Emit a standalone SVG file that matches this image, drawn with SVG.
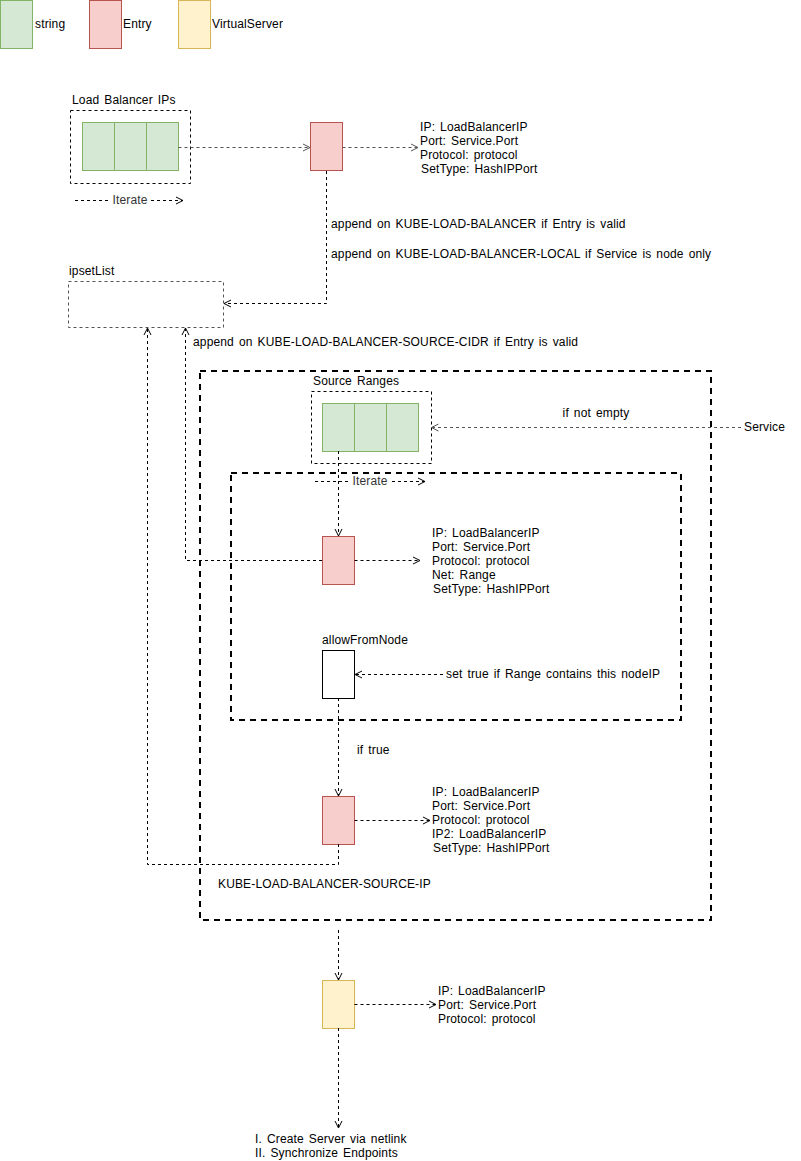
<svg xmlns="http://www.w3.org/2000/svg" width="801" height="1161" viewBox="0 0 801 1161">
<style>
text{font-family:"Liberation Sans",Arial,sans-serif;font-size:12px;fill:#000;dominant-baseline:central;letter-spacing:0.15px;word-spacing:1.5px}
.str{fill:#d5e8d4;stroke:#82b366;stroke-width:1}
.ent{fill:#f8cecc;stroke:#b85450;stroke-width:1}
.vs{fill:#fff2cc;stroke:#d6b656;stroke-width:1}
.cont{fill:none;stroke:#000;stroke-width:1;stroke-dasharray:3 3}
.gcont{fill:none;stroke:#555;stroke-width:1;stroke-dasharray:3 3}
.big{fill:none;stroke:#000;stroke-width:2;stroke-dasharray:6 5}
.c{fill:none;stroke:#000;stroke-width:1;stroke-dasharray:3 3}
.g{fill:none;stroke:#555;stroke-width:1;stroke-dasharray:3 3}
.ah{fill:none;stroke:#000;stroke-width:1}
.gah{fill:none;stroke:#555;stroke-width:1}
</style>
<defs>
<marker id="a" markerWidth="10" markerHeight="10" refX="8" refY="5" orient="auto" markerUnits="userSpaceOnUse">
<path d="M1,1.5 L8,5 L1,8.5" class="ah"/>
</marker>
<marker id="ga" markerWidth="10" markerHeight="10" refX="8" refY="5" orient="auto" markerUnits="userSpaceOnUse">
<path d="M1,1.5 L8,5 L1,8.5" class="gah"/>
</marker>
</defs>

<g id="legend">
<g id="legend-string"><rect x="0.5" y="0.5" width="32" height="48" class="str"/><text x="35" y="24">string</text></g>
<g id="legend-entry"><rect x="89.5" y="0.5" width="32" height="48" class="ent"/><text x="123" y="24">Entry</text></g>
<g id="legend-vs"><rect x="178.5" y="0.5" width="32" height="48" class="vs"/><text x="212" y="24">VirtualServer</text></g>
</g>

<g id="containers">
<rect id="source-ip-box" x="200" y="371" width="511" height="549" class="big"/>
<rect id="iterate-box" x="231" y="473" width="450" height="247" class="big"/>
</g>

<g id="lb-ips">
<text x="72" y="100">Load Balancer IPs</text>
<rect x="70.5" y="110.5" width="120" height="73" class="cont"/>
<rect x="82.5" y="122.5" width="32" height="48" class="str"/>
<rect x="114.5" y="122.5" width="32" height="48" class="str"/>
<rect x="146.5" y="122.5" width="32" height="48" class="str"/>
</g>

<g id="entry-lb">
<rect x="310.5" y="122.5" width="32" height="48" class="ent"/>
</g>
<g id="entry-lb-fields">
<text x="420" y="127">IP: LoadBalancerIP</text>
<text x="420" y="141">Port: Service.Port</text>
<text x="420" y="155">Protocol: protocol</text>
<text x="421" y="169">SetType: HashIPPort</text>
</g>

<g id="ipsetList">
<text x="69" y="271">ipsetList</text>
<rect x="68.5" y="281.5" width="155" height="46" class="gcont"/>
</g>

<g id="source-ranges">
<text x="313" y="381">Source Ranges</text>
<rect x="311.5" y="391.5" width="120" height="72" class="cont"/>
<rect x="322.5" y="403.5" width="32" height="48" class="str"/>
<rect x="354.5" y="403.5" width="32" height="48" class="str"/>
<rect x="386.5" y="403.5" width="32" height="48" class="str"/>
</g>

<g id="service"><text x="744" y="427">Service</text></g>

<g id="entry-cidr"><rect x="322.5" y="536.5" width="32" height="48" class="ent"/></g>
<g id="entry-cidr-fields">
<text x="432" y="533">IP: LoadBalancerIP</text>
<text x="432" y="547">Port: Service.Port</text>
<text x="432" y="561">Protocol: protocol</text>
<text x="432" y="575">Net: Range</text>
<text x="433" y="589">SetType: HashIPPort</text>
</g>

<g id="allowFromNode">
<text x="322" y="640">allowFromNode</text>
<rect x="322.5" y="650.5" width="32" height="48" fill="#fff" stroke="#000"/>
</g>

<g id="entry-srcip"><rect x="322.5" y="796.5" width="32" height="48" class="ent"/></g>
<g id="entry-srcip-fields">
<text x="432" y="792">IP: LoadBalancerIP</text>
<text x="432" y="806">Port: Service.Port</text>
<text x="432" y="820">Protocol: protocol</text>
<text x="432" y="834">IP2: LoadBalancerIP</text>
<text x="433" y="848">SetType: HashIPPort</text>
</g>
<text x="218" y="884">KUBE-LOAD-BALANCER-SOURCE-IP</text>

<g id="virtual-server"><rect x="322.5" y="980.5" width="32" height="48" class="vs"/></g>
<g id="vs-fields">
<text x="438" y="991">IP: LoadBalancerIP</text>
<text x="438" y="1005">Port: Service.Port</text>
<text x="438" y="1019">Protocol: protocol</text>
</g>
<g id="result">
<text x="255" y="1139">I. Create Server via netlink</text>
<text x="255" y="1153">II. Synchronize Endpoints</text>
</g>

<g id="connectors">
<path d="M178.5,147.5 H310" class="g" marker-end="url(#ga)"/>
<path d="M342.5,147.5 H418" class="g" marker-end="url(#ga)"/>
<path d="M75,200.5 H109 M151,200.5 H183" class="c" marker-end="url(#a)"/>
<text x="130" y="200" text-anchor="middle" style="fill:#333">Iterate</text>
<path d="M326.5,171 V303.5 H224" class="c" marker-end="url(#a)"/>
<text x="331" y="224">append on KUBE-LOAD-BALANCER if Entry is valid</text>
<text x="331" y="254">append on KUBE-LOAD-BALANCER-LOCAL if Service is node only</text>
<path d="M322,560.5 H185.5 V328" class="c" marker-end="url(#a)"/>
<text x="193" y="342">append on KUBE-LOAD-BALANCER-SOURCE-CIDR if Entry is valid</text>
<path d="M338.5,844 V864.5 H147.5 V328" class="c" marker-end="url(#a)"/>
<path d="M741,427.5 H431.5" class="g" marker-end="url(#ga)"/>
<text x="596" y="413" text-anchor="middle">if not empty</text>
<path d="M315,481.5 H349 M392,481.5 H425" class="c" marker-end="url(#a)"/>
<text x="370" y="481" text-anchor="middle" style="fill:#333">Iterate</text>
<path d="M338.5,451 V536" class="c" marker-end="url(#a)"/>
<path d="M354.5,560.5 H420" class="c" marker-end="url(#a)"/>
<path d="M443,674.5 H355" class="c" marker-end="url(#a)"/>
<text x="446" y="674">set true if Range contains this nodeIP</text>
<path d="M338.5,698 V796" class="c" marker-end="url(#a)"/>
<text x="357" y="750">if true</text>
<path d="M354.5,820.5 H430" class="c" marker-end="url(#a)"/>
<path d="M338.5,930 V980" class="c" marker-end="url(#a)"/>
<path d="M354.5,1004.5 H436" class="c" marker-end="url(#a)"/>
<path d="M338.5,1028 V1128" class="c" marker-end="url(#a)"/>
</g>
</svg>
